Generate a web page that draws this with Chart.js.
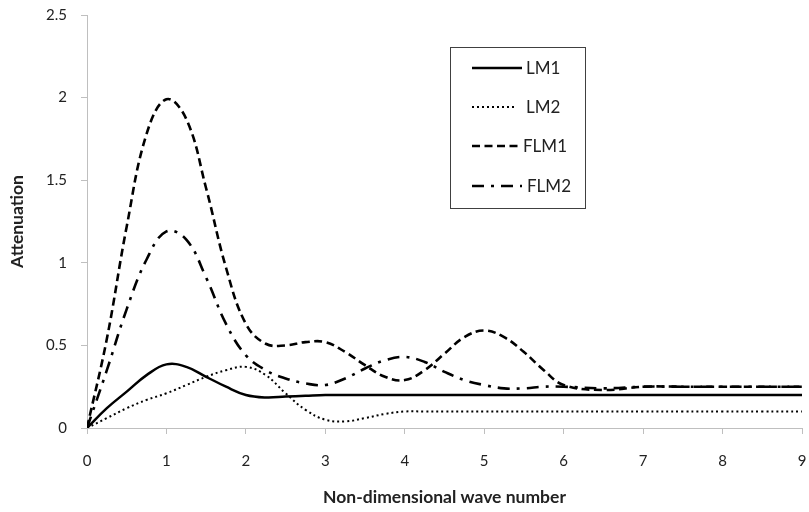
<!DOCTYPE html>
<html>
<head>
<meta charset="utf-8">
<script src="https://cdn.jsdelivr.net/npm/chart.js@4/dist/chart.umd.min.js"></script>
<style>
  html, body { margin: 0; padding: 0; background: #fff; }
  #wrap { width: 809px; height: 512px; }
</style>
</head>
<body>
<div id="wrap"><canvas id="c" width="809" height="512"></canvas></div>
<script>
const waveNumber = [0, 0.25, 0.5, 0.75, 1, 1.25, 1.5, 1.75, 2, 2.25, 2.5, 2.75, 3, 3.25, 3.5, 3.75, 4, 4.25, 4.5, 4.75, 5, 5.25, 5.5, 5.75, 6, 6.5, 7, 7.5, 8, 8.5, 9];
const LM1  = [0, 0.12, 0.22, 0.32, 0.385, 0.37, 0.31, 0.25, 0.20, 0.185, 0.19, 0.195, 0.20, 0.20, 0.20, 0.20, 0.20, 0.20, 0.20, 0.20, 0.20, 0.20, 0.20, 0.20, 0.20, 0.20, 0.20, 0.20, 0.20, 0.20, 0.20];
const LM2  = [0, 0.06, 0.12, 0.17, 0.21, 0.26, 0.31, 0.35, 0.37, 0.32, 0.21, 0.11, 0.05, 0.04, 0.06, 0.085, 0.10, 0.10, 0.10, 0.10, 0.10, 0.10, 0.10, 0.10, 0.10, 0.10, 0.10, 0.10, 0.10, 0.10, 0.10];
const FLM1 = [0, 0.54, 1.22, 1.78, 1.99, 1.87, 1.45, 0.97, 0.63, 0.51, 0.50, 0.52, 0.52, 0.46, 0.38, 0.31, 0.29, 0.35, 0.45, 0.55, 0.59, 0.55, 0.46, 0.35, 0.26, 0.23, 0.25, 0.25, 0.25, 0.25, 0.25];
const FLM2 = [0, 0.35, 0.72, 1.02, 1.19, 1.14, 0.91, 0.63, 0.44, 0.35, 0.30, 0.27, 0.26, 0.30, 0.36, 0.41, 0.43, 0.40, 0.34, 0.29, 0.26, 0.24, 0.24, 0.25, 0.25, 0.24, 0.25, 0.25, 0.25, 0.25, 0.25];
const seriesNames = ['LM1', 'LM2', 'FLM1', 'FLM2'];
const xTitle = 'Non-dimensional wave number';
const yTitle = 'Attenuation';

const FONT = 'Lato, "Open Sans", "DejaVu Sans", sans-serif';
const toPts = arr => arr.map((v, i) => ({ x: waveNumber[i], y: v }));

const styles = [
  { borderDash: [], borderWidth: 2.5 },
  { borderDash: [2, 3], borderWidth: 2 },
  { borderDash: [8, 4.5], borderWidth: 2.6 },
  { borderDash: [12, 7, 3, 7], borderWidth: 2.6 }
];
const allSeries = [LM1, LM2, FLM1, FLM2];

const datasets = allSeries.map((arr, i) => ({
  label: seriesNames[i],
  data: toPts(arr),
  borderColor: '#000',
  backgroundColor: '#000',
  borderWidth: styles[i].borderWidth,
  borderDash: styles[i].borderDash,
  pointRadius: 0,
  fill: false,
  tension: 0.4,
  borderCapStyle: 'butt'
}));

const boxLegend = {
  id: 'boxLegend',
  afterDraw(chart) {
    const ctx = chart.ctx;
    const bx = 450.5, by = 47.5, bw = 135, bh = 161;
    ctx.save();
    ctx.setLineDash([]);
    ctx.strokeStyle = '#404040';
    ctx.lineWidth = 1;
    ctx.fillStyle = '#fff';
    ctx.fillRect(bx, by, bw, bh);
    ctx.strokeRect(bx, by, bw, bh);
    const rows = [68, 107, 146, 186];
    const lineEnd = [522, 516, 521, 522];
    const textX = [526, 526, 523, 527];
    chart.data.datasets.forEach((ds, i) => {
      const y = rows[i];
      ctx.beginPath();
      ctx.setLineDash(ds.borderDash || []);
      ctx.lineWidth = ds.borderWidth;
      ctx.strokeStyle = ds.borderColor;
      ctx.moveTo(472, y);
      ctx.lineTo(lineEnd[i], y);
      ctx.stroke();
      ctx.setLineDash([]);
      ctx.fillStyle = '#222';
      ctx.font = '17px ' + FONT;
      ctx.textBaseline = 'middle';
      ctx.textAlign = 'left';
      ctx.fillText(ds.label, textX[i], y + 1);
    });
    ctx.restore();
  }
};

new Chart(document.getElementById('c'), {
  type: 'line',
  data: { datasets },
  options: {
    responsive: false,
    animation: false,
    layout: { padding: { top: 15, right: 7, left: 0, bottom: 0 } },
    plugins: { legend: { display: false }, tooltip: { enabled: false } },
    scales: {
      x: {
        type: 'linear',
        min: 0, max: 9,
        ticks: { stepSize: 1, color: '#222', font: { family: FONT, size: 15 }, padding: 18, maxRotation: 0 },
        grid: { drawOnChartArea: false, tickLength: 6, color: '#bfbfbf', tickColor: '#bfbfbf' },
        border: { color: '#bfbfbf', width: 1 },
        title: { display: true, text: xTitle, color: '#222', font: { family: FONT, size: 17.5, weight: 'bold' }, padding: { top: 0, bottom: 4 } },
        afterFit(s) { s.height = 84; s.paddingLeft = 0; s.paddingRight = 0; }
      },
      y: {
        min: 0, max: 2.5,
        ticks: { stepSize: 0.5, color: '#222', font: { family: FONT, size: 15 }, padding: 14,
                 callback: v => String(Number(v.toFixed(2))) },
        grid: { drawOnChartArea: false, tickLength: 6, color: '#bfbfbf', tickColor: '#bfbfbf' },
        border: { color: '#bfbfbf', width: 1 },
        title: { display: true, text: yTitle, color: '#222', font: { family: FONT, size: 17.5, weight: 'bold' }, padding: { top: 7, bottom: 0 } },
        afterFit(s) { s.width = 87; s.paddingTop = 0; s.paddingBottom = 0; }
      }
    }
  },
  plugins: [boxLegend]
});
</script>
</body>
</html>
